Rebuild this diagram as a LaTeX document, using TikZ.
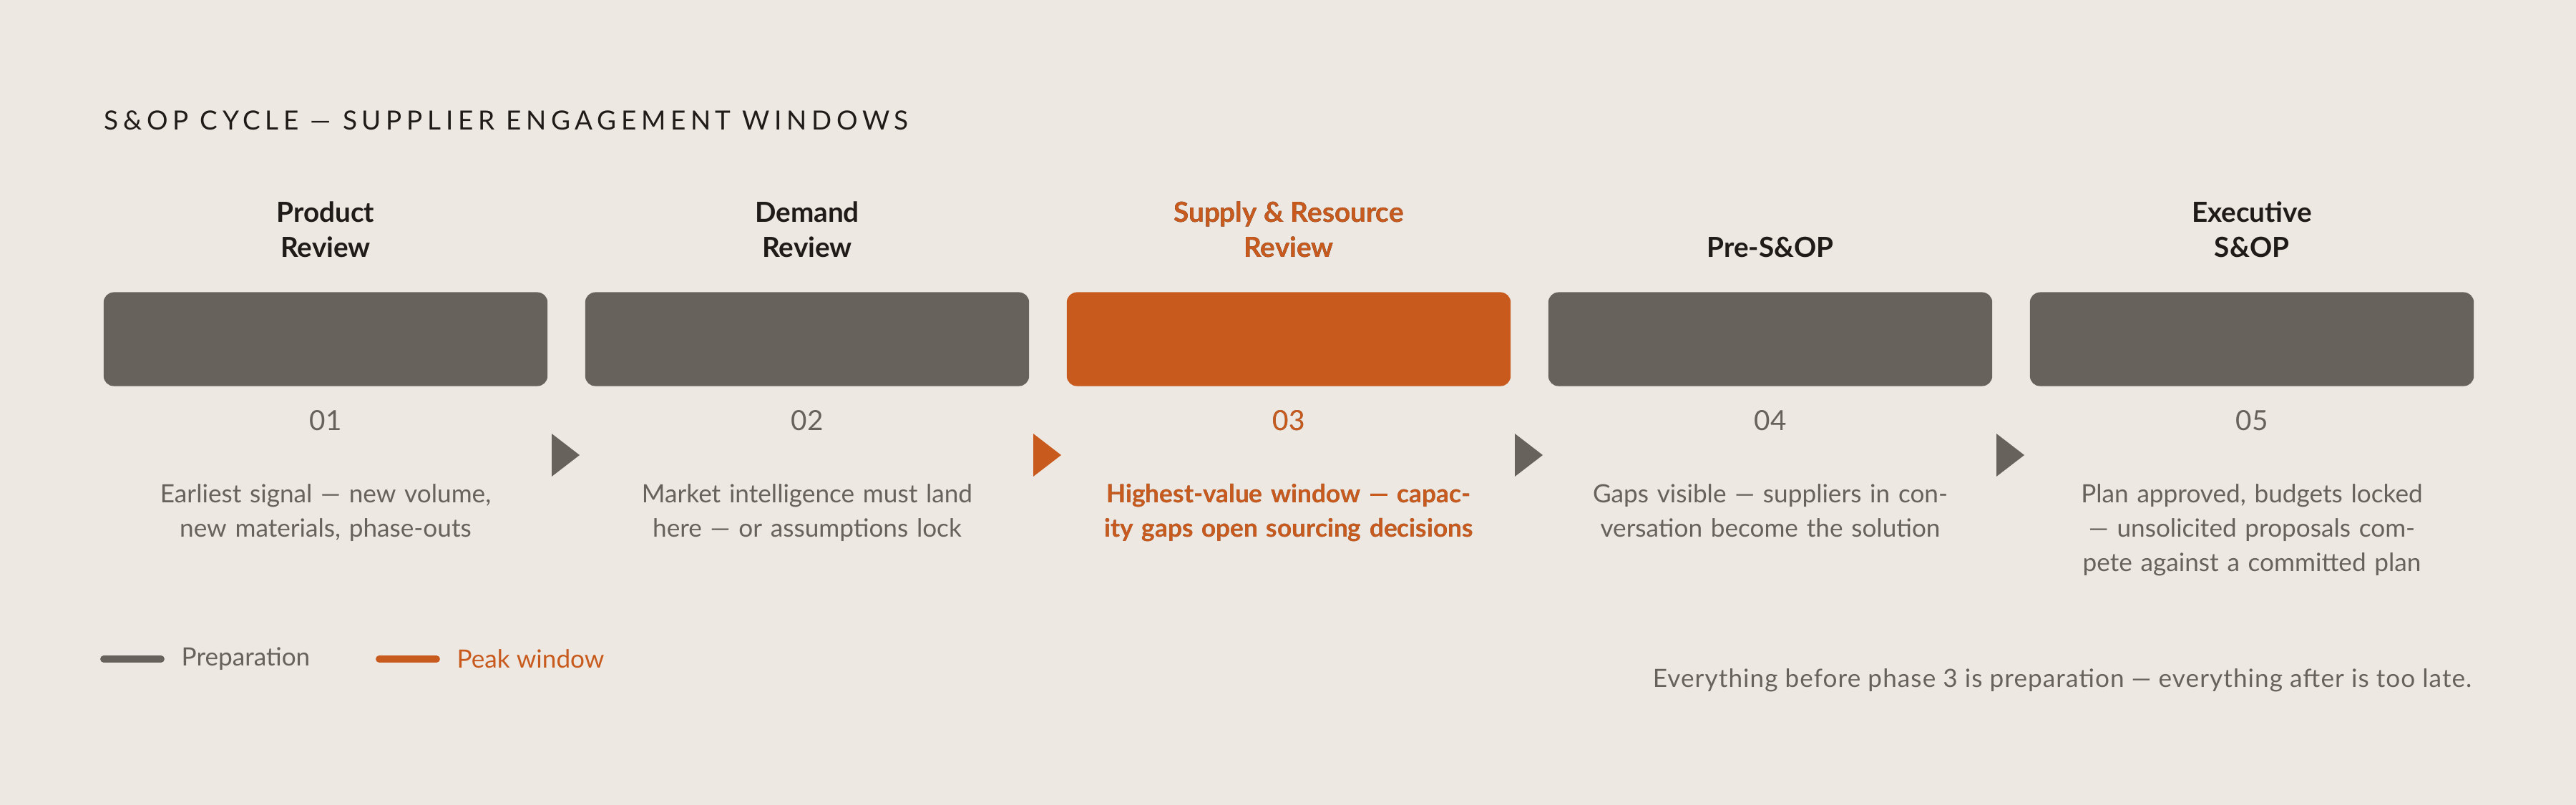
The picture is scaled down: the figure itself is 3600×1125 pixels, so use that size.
\documentclass[tikz,border=0pt]{standalone}
\usepackage{fontspec}
\setmainfont{Lato}
\usetikzlibrary{positioning}
\definecolor{bgcol}{HTML}{EDE8E1}
\definecolor{phasegray}{HTML}{67625B}
\definecolor{peakorange}{HTML}{C85A1E}
\definecolor{inkdark}{HTML}{1E1B18}
\begin{document}
\begin{tikzpicture}[x=0.01cm,y=-0.01cm,
    phase/.style={rounded corners=4pt, minimum width=6.2cm, minimum height=1.31cm, inner sep=0pt},
    phasetitle/.style={font=\fontsize{11}{13.8}\selectfont\bfseries, text=inkdark, align=center},
    phasenum/.style={font=\fontsize{11}{13}\selectfont, text=phasegray},
    phasedesc/.style={font=\fontsize{10}{13.7}\selectfont, text=phasegray, align=center, text width=6.2cm},
    step/.style={fill=phasegray}]

    % background
    \fill[bgcol] (0,0) rectangle (3600,1125);
    \useasboundingbox (0,0) rectangle (3600,1125);

    \node[anchor=west, inner sep=0pt, text=inkdark, font=\fontsize{10.5}{12}\selectfont]
      (title) at (145,168) {\addfontfeature{LetterSpace=18}S\&OP CYCLE — SUPPLIER ENGAGEMENT WINDOWS};

    % phases
    \foreach \i/\ttl/\desc/\col in {
      1/{Product\\Review}/{Earliest signal — new volume, new materials, phase-outs}/phasegray,
      2/{Demand\\Review}/{Market intelligence must land here — or assumptions lock}/phasegray,
      3/{Supply \& Resource\\Review}/{\bfseries Highest-value window — capacity gaps open sourcing decisions}/peakorange,
      4/{Pre-S\&OP}/{Gaps visible — suppliers in conversation become the solution}/phasegray,
      5/{Executive\\S\&OP}/{Plan approved, budgets locked — unsolicited proposals compete against a committed plan}/phasegray}
    {
      \pgfmathsetmacro{\cx}{455+673*(\i-1)}
      \node[phase, fill=\col] (box\i) at (\cx,474) {};
      \node[phasetitle, anchor=south] (ttl\i) at (\cx,372) {\ttl};
      \node[phasenum, anchor=center] (num\i) at (\cx,588) {0\i};
      \node[phasedesc, anchor=north] (desc\i) at (\cx,664) {\desc};
    }
    \foreach \i in {3}{
      \node[phasetitle, anchor=south, text=peakorange] at (ttl\i.south) {Supply \& Resource\\Review};
      \node[phasenum, text=peakorange] at (num\i) {03};
      \node[phasedesc, anchor=north, text=peakorange] at (desc\i.north) {\bfseries Highest-value window — capacity gaps open sourcing decisions};
    }

    % step arrows
    \foreach \j/\col in {1/phasegray,2/peakorange,3/phasegray,4/phasegray}{
      \pgfmathsetmacro{\ax}{771+673*(\j-1)}
      \fill[\col] (\ax,606) -- ++(39,30) -- ++(-39,30) -- cycle;
    }

    % legend
    \coordinate (legA) at (145,921);
    \coordinate (legB) at (530,921);
    \draw[phasegray, line width=2.8pt, line cap=round] (legA) -- ++(80,0) node[right=0.8cm, anchor=west, font=\fontsize{10}{12}\selectfont] (prep) {};
    \node[anchor=west, text=phasegray, font=\fontsize{10}{12}\selectfont, inner sep=0pt] (prep) at (253,921) {Preparation};
    \draw[peakorange, line width=2.8pt, line cap=round] (legB) -- ++(80,0);
    \node[anchor=west, text=peakorange, font=\fontsize{10}{12}\selectfont, inner sep=0pt] (peak) at (638,921) {Peak window};

    \node[anchor=east, text=phasegray, font=\fontsize{10}{12}\selectfont, inner sep=0pt] (note) at (3455,951)
      {\addfontfeature{LetterSpace=3}Everything before phase 3 is preparation — everything after is too late.};

\end{tikzpicture}
\end{document}
